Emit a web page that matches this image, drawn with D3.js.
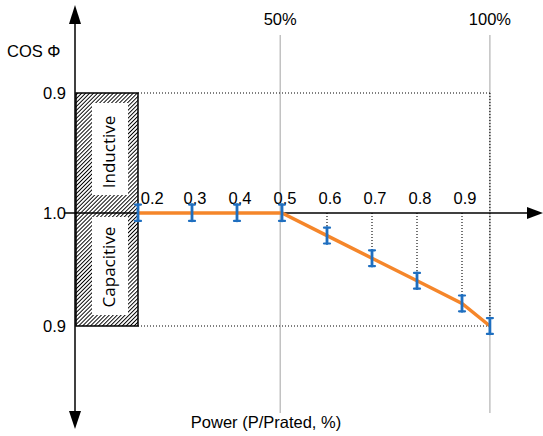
<!DOCTYPE html>
<html><head><meta charset="utf-8">
<script src="https://cdn.jsdelivr.net/npm/d3@7"></script>
<style>body{margin:0;background:#fff}svg{display:block}text{font-family:"Liberation Sans",Arial,sans-serif;fill:#000}</style>
</head><body><svg id="c" width="543" height="436"></svg>
<script>
// data
const tickLabels = ["0.2","0.3","0.4","0.5","0.6","0.7","0.8","0.9"];
const tickPower = [0.205, 0.3, 0.4, 0.5, 0.6, 0.7, 0.8, 0.9];
const pointPower = [0.18, 0.3, 0.4, 0.5, 0.6, 0.7, 0.8, 0.9, 0.962];
const pointDeviation = [0, 0, 0, 0, -0.02, -0.04, -0.06, -0.08, -0.1]; // cos φ = 1 - |dev| (negative = capacitive)
const errHalf = 0.007;
const yTickValues = [0.1, 0, -0.1];
const yTickLabels = ["0.9", "1.0", "0.9"];
const refPower = [0.496, 0.962];
const refLabels = ["50%", "100%"];

const svg = d3.select("#c");
const x = d3.scaleLinear().domain([0.3, 0.9]).range([192, 462]);
const y = d3.scaleLinear().domain([0.1, 0, -0.1]).range([93, 213, 326]);
const axisX = 75;
const FS = 16.5;

// hatch pattern
const defs = svg.append("defs");
const pat = defs.append("pattern").attr("id","hatch").attr("patternUnits","userSpaceOnUse")
  .attr("width",2.8).attr("height",2.8).attr("patternTransform","rotate(45)");
pat.append("rect").attr("width",2.8).attr("height",2.8).attr("fill","#fff");
pat.append("line").attr("x1",0).attr("y1",0).attr("x2",0).attr("y2",2.8).attr("stroke","#000").attr("stroke-width",1.9);

// grey reference lines
svg.selectAll(".ref").data(refPower).join("line")
  .attr("x1",d=>x(d)).attr("x2",d=>x(d)).attr("y1",35).attr("y2",413)
  .attr("stroke","#b3b3b3").attr("stroke-width",1.2);
svg.selectAll(".refl").data(refLabels).join("text")
  .attr("x",(d,i)=>x(refPower[i])).attr("y",25).attr("text-anchor","middle")
  .attr("font-size",FS).text(d=>d);

// dotted horizontal lines at 0.9 both sides
const boxRight = x(pointPower[0]);
const xEnd = x(pointPower[pointPower.length-1]);
[0.1,-0.1].forEach(v=>{
  svg.append("line").attr("x1",boxRight).attr("x2",xEnd).attr("y1",y(v)).attr("y2",y(v))
    .attr("stroke","#000").attr("stroke-width",1.1).attr("stroke-dasharray","1,2");
});
// dotted vertical at 100%
svg.append("line").attr("x1",xEnd).attr("x2",xEnd).attr("y1",y(0.1)).attr("y2",y(-0.1))
  .attr("stroke","#000").attr("stroke-width",1.1).attr("stroke-dasharray","1,2");
// dotted drops from axis to points
svg.selectAll(".drop").data(pointPower.slice(4,8)).join("line")
  .attr("x1",d=>x(d)).attr("x2",d=>x(d)).attr("y1",y(0))
  .attr("y2",(d,i)=>y(pointDeviation[i+4]+errHalf))
  .attr("stroke","#000").attr("stroke-width",1.1).attr("stroke-dasharray","1,2");

// hatched box
svg.append("rect").attr("x",axisX+1).attr("y",y(0.1)).attr("width",boxRight-axisX-1).attr("height",y(-0.1)-y(0.1))
  .attr("fill","url(#hatch)").attr("stroke","#000").attr("stroke-width",1.5);
svg.append("rect").attr("x",92).attr("y",103).attr("width",36).attr("height",92).attr("fill","#fff");
svg.append("rect").attr("x",92).attr("y",217).attr("width",36).attr("height",98).attr("fill","#fff");
svg.append("text").attr("transform","translate(115,152) rotate(-90)").attr("text-anchor","middle")
  .attr("font-size",17).style("font-family","'Open Sans','Noto Sans',sans-serif").text("Inductive");
svg.append("text").attr("transform","translate(115,267) rotate(-90)").attr("text-anchor","middle")
  .attr("font-size",17).style("font-family","'Open Sans','Noto Sans',sans-serif").text("Capacitive");

// axes
svg.append("line").attr("x1",axisX).attr("x2",axisX).attr("y1",22).attr("y2",414).attr("stroke","#000").attr("stroke-width",1.5);
svg.append("path").attr("d",`M${axisX},5 L${axisX-6},24 L${axisX+6},24 Z`).attr("fill","#000");
svg.append("path").attr("d",`M${axisX},429 L${axisX-6},411 L${axisX+6},411 Z`).attr("fill","#000");
svg.append("line").attr("x1",64).attr("x2",532).attr("y1",y(0)).attr("y2",y(0)).attr("stroke","#000").attr("stroke-width",1.5);
svg.append("path").attr("d",`M543,${y(0)} L527,${y(0)-6} L527,${y(0)+6} Z`).attr("fill","#000");

// y labels
svg.selectAll(".yl").data(yTickLabels).join("text")
  .attr("x",66).attr("y",(d,i)=>y(yTickValues[i])+6).attr("text-anchor","end").attr("font-size",FS).text(d=>d);
svg.append("text").attr("x",7).attr("y",57).attr("font-size",FS).text("COS Φ");

// x tick labels
svg.selectAll(".xl").data(tickLabels).join("text")
  .attr("x",(d,i)=>x(tickPower[i])+3).attr("y",204).attr("text-anchor","middle").attr("font-size",FS).text(d=>d);
svg.append("text").attr("x",266).attr("y",428).attr("text-anchor","middle").attr("font-size",FS).text("Power (P/Prated, %)");

// orange line
const pts = pointPower.map((p,i)=>[p,pointDeviation[i]]);
svg.append("path").datum(pts).attr("d",d3.line().x(d=>x(d[0])).y(d=>y(d[1])))
  .attr("fill","none").attr("stroke","#f5862a").attr("stroke-width",3.5);

// error bars
const eb = svg.selectAll(".eb").data(pts).join("g").attr("stroke","#1f6fc0").attr("stroke-linecap","round");
eb.append("line").attr("x1",d=>x(d[0])).attr("x2",d=>x(d[0])).attr("y1",d=>y(d[1]+errHalf)).attr("y2",d=>y(d[1]-errHalf)).attr("stroke-width",2.8);
eb.append("line").attr("x1",d=>x(d[0])-3).attr("x2",d=>x(d[0])+3).attr("y1",d=>y(d[1]+errHalf)).attr("y2",d=>y(d[1]+errHalf)).attr("stroke-width",2.2);
eb.append("line").attr("x1",d=>x(d[0])-3).attr("x2",d=>x(d[0])+3).attr("y1",d=>y(d[1]-errHalf)).attr("y2",d=>y(d[1]-errHalf)).attr("stroke-width",2.2);
</script></body></html>
